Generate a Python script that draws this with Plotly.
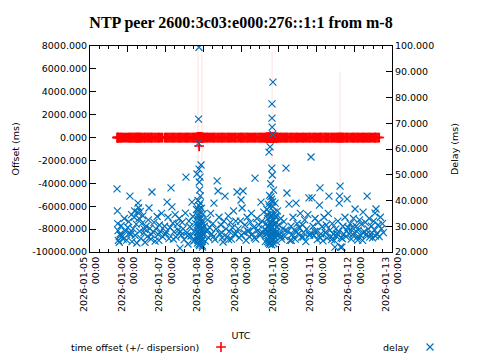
import pandas as pd
import plotly.graph_objects as go

BASE = pd.Timestamp("2026-01-05 00:00")

# sample times, hours after 2026-01-05 00:00 UTC (grouped per stretch)
sample_hours = [
    # Jan 5 (13)
    17.2, 17.4, 17.6, 17.8, 18.0, 18.6, 19.2, 19.8, 20.5, 21.1, 21.8, 22.5, 23.3,
    # Jan 6 (39)
    24.0, 24.6, 25.4, 26.0, 26.4, 26.7, 27.4, 28.1, 28.4, 28.7,
    29.4, 30.1, 30.5, 30.9, 31.2, 31.6, 32.0, 32.3, 32.9, 33.6,
    34.3, 35.0, 35.7, 36.4, 37.1, 37.5, 38.1, 38.7, 39.4, 40.0,
    40.7, 41.4, 42.0, 42.7, 43.4, 44.1, 44.8, 45.5, 46.1,
    # Jan 7 (33)
    47.4, 48.1, 49.0, 49.6, 50.2, 50.9, 51.5, 52.1, 52.7, 53.4,
    54.1, 54.7, 55.4, 56.1, 56.7, 57.2, 57.9, 58.6, 59.2, 59.9,
    60.6, 61.0, 61.6, 62.3, 62.9, 63.5, 64.2, 64.8, 65.4, 66.0,
    66.6, 67.2, 67.7,
    # Jan 7 late spike (34)
    67.8, 68.0, 68.2, 68.4, 68.6, 68.7, 68.9, 69.0, 69.0, 69.1,
    69.2, 69.3, 69.3, 69.4, 69.5, 69.5, 69.6, 69.7, 69.8, 69.9,
    70.0, 70.1, 70.2, 70.3, 70.4, 70.6, 70.7, 70.8, 71.0, 71.2,
    71.4, 71.5, 71.6, 71.9,
    # Jan 8 (33)
    72.1, 72.7, 73.3, 74.0, 74.7, 75.4, 76.1, 76.7, 77.4, 78.1,
    78.8, 79.4, 80.1, 80.8, 81.4, 82.0, 82.6, 83.3, 84.0, 84.6,
    85.2, 85.8, 86.5, 87.2, 87.9, 88.6, 89.3, 89.9, 90.6, 91.3,
    92.0, 92.7, 93.5,
    # Jan 9 (28)
    94.2, 94.9, 95.6, 96.0, 96.7, 97.3, 97.9, 98.5, 99.2, 99.9,
    100.6, 101.3, 102.0, 102.6, 103.3, 104.0, 104.9, 105.4, 106.1, 106.8,
    107.4, 108.1, 108.7, 109.3, 109.9, 110.5, 111.1, 111.5,
    # Jan 9 late spike (46)
    111.9, 112.2, 112.5, 112.8, 113.1, 113.3, 113.5, 113.6, 113.8, 113.9,
    114.1, 114.2, 114.4, 114.5, 114.6, 114.7, 114.9, 115.0, 115.1, 115.3,
    115.4, 115.5, 115.6, 115.7, 115.7, 115.7, 115.8, 115.9, 116.0, 116.1,
    116.2, 116.3, 116.4, 116.5, 116.7, 116.8, 117.0, 117.2, 117.4, 117.7,
    117.9, 118.2, 118.5, 118.8, 119.2, 119.6,
    # Jan 10 (32)
    120.1, 120.6, 121.2, 121.9, 122.5, 123.2, 123.8, 124.6, 125.2, 125.7,
    126.5, 127.1, 127.8, 128.5, 129.1, 129.8, 130.4, 131.0, 131.7, 132.4,
    133.0, 133.7, 134.4, 135.1, 135.8, 136.5, 137.2, 137.8, 138.5, 139.2,
    139.8, 140.5,
    # Jan 11 (40)
    141.2, 141.8, 142.4, 143.1, 143.8, 144.5, 145.2, 145.9, 146.2, 146.8,
    147.5, 148.1, 148.8, 149.5, 150.2, 150.8, 151.5, 151.9, 152.6, 153.3,
    154.0, 154.7, 155.3, 155.7, 156.3, 156.9, 157.6, 158.2, 158.4, 158.7,
    159.0, 159.3, 159.7, 160.2, 160.8, 161.4, 162.1, 162.8, 163.5, 164.0,
    # Jan 12 (35)
    164.7, 165.4, 166.1, 166.8, 167.5, 168.1, 168.5, 169.2, 169.9, 170.6,
    171.3, 172.0, 172.6, 173.3, 173.6, 174.3, 175.0, 175.6, 176.2, 176.8,
    177.5, 178.2, 178.9, 179.6, 180.3, 181.0, 181.2, 181.8, 182.5, 183.2,
    183.9, 184.6, 185.3, 185.9, 186.5,
    # extra samples in the two spikes (16 + 22) and the low band (38)
    68.1, 68.3, 68.5, 68.8, 69.0, 69.1, 69.2, 69.4, 69.5, 69.7,
    69.9, 70.1, 70.3, 70.5, 70.9, 71.3,
    112.3, 112.7, 113.0, 113.4, 113.7, 114.0, 114.3, 114.6, 114.8, 115.0,
    115.2, 115.4, 115.6, 115.9, 116.1, 116.4, 116.6, 116.9, 117.3, 117.6,
    118.0, 118.6,
    19.5, 25.0, 29.8, 34.7, 39.0, 43.8, 48.5, 53.0, 57.5, 62.0,
    65.8, 74.3, 78.5, 83.7, 88.2, 92.4, 96.3, 100.2, 104.5, 108.4,
    121.5, 124.3, 128.0, 131.5, 135.5, 139.5, 142.8, 146.5, 149.8, 153.6,
    157.2, 160.5, 163.2, 167.0, 170.2, 173.8, 177.8, 181.5,
]

delay_ms = [
    # Jan 5 (13)
    44.5, 36.0, 31.0, 28.3, 24.5, 23.8, 27.0, 30.2, 26.0, 25.0, 33.0, 28.0, 24.6,
    # Jan 6 (39)
    29.5, 31.8, 41.7, 27.0, 34.5, 24.0, 29.0, 33.5, 36.0, 26.5,
    30.8, 35.5, 39.0, 37.2, 33.0, 28.0, 35.8, 25.3, 31.0, 34.0,
    27.5, 23.8, 30.0, 26.0, 32.5, 37.1, 29.2, 25.0, 43.3, 27.8,
    31.5, 24.2, 29.0, 33.8, 26.8, 30.5, 28.0, 35.0, 26.0,
    # Jan 7 (33)
    30.0, 27.0, 39.4, 33.5, 25.2, 29.5, 44.9, 37.5, 31.2, 27.8,
    34.5, 25.8, 30.8, 28.5, 33.0, 21.5, 26.5, 31.5, 29.0, 24.8,
    35.1, 49.1, 27.5, 23.1, 32.0, 29.8, 26.2, 39.4, 33.8, 28.0,
    24.5, 31.0, 36.5,
    # Jan 7 late spike (34)
    26.0, 50.3, 30.5, 23.5, 34.0, 40.0, 28.0, 71.6, 62.3, 25.0,
    32.5, 99.5, 52.2, 38.0, 47.2, 27.0, 22.5, 44.1, 30.0, 35.5,
    49.1, 25.8, 41.8, 29.0, 33.0, 53.8, 24.0, 37.0, 27.5, 31.5,
    22.6, 21.9, 28.8, 34.8,
    # Jan 8 (33)
    26.5, 30.0, 24.2, 28.0, 32.5, 25.5, 29.5, 35.0, 27.0, 31.0,
    39.0, 24.8, 29.0, 47.6, 43.7, 33.5, 27.0, 30.5, 25.5, 23.9,
    32.0, 41.7, 29.0, 26.0, 34.0, 28.0, 31.5, 25.0, 29.5, 36.0,
    27.0, 32.0, 43.3,
    # Jan 9 (28)
    29.0, 25.5, 32.0, 40.2, 37.1, 43.7, 27.5, 30.5, 24.5, 33.5,
    28.0, 26.0, 31.5, 35.0, 27.0, 29.5, 48.7, 25.0, 33.0, 28.5,
    30.5, 26.5, 39.4, 32.0, 27.5, 35.5, 29.0, 24.0,
    # Jan 9 late spike (46)
    31.0, 27.0, 36.5, 25.0, 33.0, 29.5, 38.5, 23.5, 58.8, 27.8,
    42.0, 31.5, 25.5, 60.8, 35.0, 23.5, 46.5, 29.0, 33.8, 26.5,
    40.5, 22.8, 52.6, 30.0, 77.5, 72.0, 68.5, 49.9, 27.0, 37.5,
    65.8, 86.0, 32.0, 24.5, 44.0, 28.5, 35.5, 25.8, 31.0, 39.0,
    27.0, 33.5, 24.0, 29.8, 36.0, 26.5,
    # Jan 10 (32)
    30.5, 27.0, 33.0, 25.0, 29.0, 31.8, 26.0, 52.6, 42.9, 28.0,
    38.6, 24.5, 30.0, 26.8, 33.5, 28.5, 25.0, 39.0, 31.0, 27.0,
    29.5, 35.0, 25.8, 30.5, 27.5, 32.5, 24.0, 29.0, 34.5, 41.0,
    27.0, 56.9,
    # Jan 11 (40)
    41.0, 30.0, 26.5, 33.0, 28.0, 24.8, 31.5, 38.2, 44.9, 27.0,
    29.8, 24.3, 33.5, 27.5, 30.5, 25.5, 35.0, 41.7, 28.5, 26.0,
    31.0, 27.0, 24.5, 21.9, 29.0, 26.0, 32.0, 28.0, 39.0, 41.7,
    45.6, 21.9, 25.5, 21.9, 30.0, 27.0, 33.5, 26.0, 40.6, 29.5,
    # Jan 12 (35)
    27.0, 31.0, 25.0, 29.5, 33.0, 27.5, 36.7, 30.0, 25.8, 28.5,
    32.5, 26.5, 30.8, 24.5, 35.5, 28.0, 31.5, 26.8, 41.7, 29.0,
    33.0, 27.0, 30.0, 25.5, 32.0, 28.5, 35.1, 36.7, 27.0, 30.5,
    26.0, 33.5, 29.0, 31.0, 27.5,
    # extra samples (16 + 22 + 38)
    27.5, 33.0, 24.5, 29.5, 36.5, 26.0, 31.0, 23.0, 34.5, 28.5,
    25.5, 39.0, 30.5, 26.5, 32.0, 24.8,
    28.0, 34.5, 24.0, 30.0, 26.5, 37.5, 23.0, 31.5, 28.8, 41.5,
    25.5, 34.0, 29.5, 24.8, 39.5, 27.5, 32.5, 23.2, 30.5, 26.0,
    34.0, 28.0,
    26.5, 27.2, 23.5, 28.8, 26.8, 24.5, 27.8, 25.0, 28.0, 26.3,
    24.2, 28.5, 26.0, 27.5, 24.8, 27.0, 26.5, 28.2, 25.5, 27.2,
    26.0, 28.5, 24.5, 27.8, 25.8, 26.5, 28.0, 25.5, 27.5, 24.8,
    27.0, 25.2, 28.2, 26.8, 24.6, 27.3, 25.8, 26.2,
]

offset_ms = [
    # Jan 5 (13)
    0.5, -0.3, 0.2, 0.8, -0.5, 0.1, 0.4, -0.2, 0.6, -0.4, 0.3, 0.0, -0.1,
    # Jan 6 (39)
    0.2, -0.6, 0.4, 0.1, -0.3, 0.7, -0.2, 0.3, 0.0, -0.5,
    0.6, -0.1, 0.2, -0.4, 0.5, 0.1, -0.3, 0.4, -0.2, 0.3,
    0.0, -0.6, 0.2, 0.5, -0.1, 0.3, -0.4, 0.1, 0.6, -0.2,
    0.4, -0.3, 0.0, 0.2, -0.5, 0.3, 0.1, -0.2, 0.4,
    # Jan 7 (33)
    0.3, -0.2, 0.5, 0.0, -0.4, 0.2, 0.6, -0.1, 0.3, -0.5,
    0.1, 0.4, -0.3, 0.2, 0.0, -0.6, 0.5, -0.2, 0.3, 0.1,
    -0.4, 0.6, 0.0, -0.3, 0.2, 0.4, -0.1, 0.5, -0.5, 0.1,
    0.3, -0.2, 0.0,
    # Jan 7 late spike (34)
    0.4, -0.3, 0.1, 0.6, -0.2, 0.2, 0.0, -0.5, 0.3, 0.5,
    -0.1, 0.2, -0.4, -740.0, 0.1, 0.4, -0.3, 0.6, 0.0, -0.2,
    0.3, 0.5, -0.6, 0.1, 0.2, -0.1, 0.4, -0.3, 0.0, 0.5,
    -0.2, 0.3, 0.1, -0.4,
    # Jan 8 (33)
    0.2, 0.5, -0.3, 0.1, 0.4, -0.2, 0.0, 0.6, -0.5, 0.3,
    0.1, -0.1, 0.4, 0.2, -0.4, 0.5, 0.0, -0.3, 0.3, 0.6,
    -0.2, 0.1, 0.4, -0.5, 0.2, 0.0, 0.3, -0.1, 0.5, -0.4,
    0.1, 0.2, -0.3,
    # Jan 9 (28)
    0.4, -0.2, 0.1, 0.5, -0.3, 0.0, 0.3, 0.6, -0.4, 0.2,
    -0.1, 0.4, 0.1, -0.5, 0.3, 0.0, 0.5, -0.2, 0.2, 0.6,
    -0.3, 0.1, 0.4, -0.1, 0.0, 0.3, -0.4, 0.2,
    # Jan 9 late spike (46)
    0.1, 0.5, -0.2, 0.3, 0.0, -0.4, 0.6, 0.2, -0.1, 0.4,
    -0.3, 0.1, 0.5, -0.5, 0.2, 0.0, 0.3, -0.2, 0.6, 0.1,
    -0.4, 0.4, 0.0, 0.2, -0.1, 0.5, -0.3, 0.3, 0.1, -0.6,
    0.4, 0.0, 0.2, -0.2, 0.5, 0.1, -0.4, 0.3, 0.0, 0.6,
    -0.1, 0.2, 0.4, -0.3, 0.1, 0.5,
    # Jan 10 (32)
    0.3, -0.1, 0.4, 0.0, -0.3, 0.5, 0.2, -0.4, 0.1, 0.6,
    -0.2, 0.3, 0.0, 0.4, -0.5, 0.2, 0.1, -0.1, 0.5, 0.3,
    -0.3, 0.0, 0.4, 0.2, -0.2, 0.6, 0.1, -0.4, 0.3, 0.0,
    0.5, -0.1,
    # Jan 11 (40)
    0.2, 0.4, -0.2, 0.1, 0.5, -0.3, 0.0, 0.3, 0.6, -0.1,
    0.2, -0.4, 0.4, 0.1, -0.2, 0.5, 0.0, 0.3, -0.5, 0.2,
    0.6, -0.1, 0.1, 0.4, -0.3, 0.0, 0.3, 0.5, -0.2, 0.1,
    0.2, -0.4, 0.4, 0.0, 0.3, -0.1, 0.5, 0.2, -0.3, 0.1,
    # Jan 12 (35, last four have no offset)
    0.3, 0.0, -0.2, 0.4, 0.1, 0.5, -0.3, 0.2, 0.0, 0.6,
    -0.1, 0.3, 0.4, -0.4, 0.1, 0.2, -0.2, 0.5, 0.0, 0.3,
    0.1, -0.3, 0.4, 0.2, 0.6, -0.1, 0.0, 0.3, 0.2, -0.2,
    0.1, None, None, None, None,
    # extra samples (16 + 22 + 38)
    0.2, -0.1, 0.4, 0.0, -0.3, 0.5, 0.1, -0.2, 0.3, 0.6,
    -0.4, 0.2, 0.0, 0.4, -0.1, 0.3,
    0.5, -0.2, 0.1, 0.3, -0.4, 0.0, 0.6, 0.2, -0.3, 0.1,
    0.4, -0.1, 0.2, 0.5, -0.5, 0.0, 0.3, -0.2, 0.1, 0.4,
    -0.3, 0.2,
    0.0, 0.3, -0.2, 0.5, 0.1, -0.4, 0.2, 0.6, -0.1, 0.3,
    0.0, -0.3, 0.4, 0.1, -0.2, 0.5, 0.2, -0.5, 0.3, 0.0,
    0.4, -0.1, 0.2, 0.6, -0.3, 0.1, 0.0, 0.3, -0.4, 0.2,
    0.5, -0.2, 0.1, 0.4, 0.0, -0.1, 0.3, 0.2,
]

# samples whose dispersion is large enough to be visible
disp_hours = [68.7, 69.4, 71.2, 115.8, 159.0]
disp_offset_ms = [0.0, -740.0, 0.0, 0.0, 0.0]
disp_ms = [9500.0, 450.0, 9200.0, 7500.0, 5800.0]

x_tick_days = ["2026-01-05", "2026-01-06", "2026-01-07", "2026-01-08", "2026-01-09",
               "2026-01-10", "2026-01-11", "2026-01-12", "2026-01-13"]
x_tick_text = [d + "<br>00:00" for d in x_tick_days]
y_ticks = [-10000, -8000, -6000, -4000, -2000, 0, 2000, 4000, 6000, 8000]
y_tick_text = ["-10000.000", "-8000.000", "-6000.000", "-4000.000", "-2000.000",
               "0.000", "2000.000", "4000.000", "6000.000", "8000.000"]
y2_ticks = [20, 30, 40, 50, 60, 70, 80, 90, 100]
y2_tick_text = ["20.000", "30.000", "40.000", "50.000", "60.000",
                "70.000", "80.000", "90.000", "100.000"]

assert len(sample_hours) == len(delay_ms) == len(offset_ms)

def to_time(h):
    return BASE + pd.Timedelta(hours=h)

times = [to_time(h) for h in sample_hours]
off_t = [t for t, o in zip(times, offset_ms) if o is not None]
off_v = [o for o in offset_ms if o is not None]

RED = "#ff0000"
BLUE = "#0072bd"
FONT = "DejaVu Sans"
FS = 9.5

fig = go.Figure()

big = [i for i, d in enumerate(disp_ms) if d > 1000]
small = [i for i, d in enumerate(disp_ms) if d <= 1000]
fig.add_trace(go.Scatter(
    x=[to_time(disp_hours[i]) for i in big], y=[disp_offset_ms[i] for i in big],
    mode="markers", marker=dict(size=1, color="rgba(255,0,0,0)"),
    error_y=dict(type="data", array=[disp_ms[i] for i in big], visible=True,
                 color="rgba(255,80,80,0.14)", thickness=1.2, width=0),
    showlegend=False, hoverinfo="skip"))
fig.add_trace(go.Scatter(
    x=[to_time(disp_hours[i]) for i in small], y=[disp_offset_ms[i] for i in small],
    mode="markers", marker=dict(size=1, color="rgba(255,0,0,0)"),
    error_y=dict(type="data", array=[disp_ms[i] for i in small], visible=True,
                 color=RED, thickness=1.2, width=0),
    showlegend=False, hoverinfo="skip"))

fig.add_trace(go.Scatter(
    x=off_t, y=off_v, mode="markers", name="",
    marker=dict(symbol="cross-thin", size=7, line=dict(color=RED, width=1.6), color=RED),
    legend="legend", showlegend=True))

fig.add_trace(go.Scatter(
    x=times, y=delay_ms, mode="markers", name="", yaxis="y2",
    marker=dict(symbol="x-thin", size=7, line=dict(color=BLUE, width=1.2), color=BLUE),
    legend="legend2", showlegend=True))

axis_common = dict(showline=True, linecolor="black", linewidth=1, ticks="inside",
                   tickcolor="black", ticklen=6, showgrid=False, zeroline=False,
                   automargin=False,
                   tickfont=dict(family=FONT, size=FS, color="black"))

LEG_Y = (252 - 347) / 206

fig.update_layout(
    width=480, height=360,
    margin=dict(l=90, r=88, t=46, b=108, autoexpand=False),
    paper_bgcolor="white", plot_bgcolor="white",
    title=dict(text="<b>NTP peer 2600:3c03:e000:276::1:1 from m-8</b>",
               x=0.5, xref="paper", xanchor="center",
               y=1 - 22 / 360, yref="container", yanchor="middle",
               font=dict(family="Liberation Serif", size=16, color="black")),
    xaxis=dict(type="date", range=[to_time(0), to_time(192)],
               tickvals=[pd.Timestamp(d) for d in x_tick_days], ticktext=x_tick_text,
               tickangle=-90, mirror="ticks",
               minor=dict(dtick=6 * 3600 * 1000, ticks="inside", ticklen=3, tickcolor="black"),
               title=dict(text="UTC", standoff=21, font=dict(family=FONT, size=FS, color="black")),
               **axis_common),
    yaxis=dict(range=[-10000, 8000], tickvals=y_ticks, ticktext=y_tick_text,
               title=dict(text="Offset (ms)", standoff=10, font=dict(family=FONT, size=FS, color="black")),
               **axis_common),
    yaxis2=dict(range=[20, 100], tickvals=y2_ticks, ticktext=y2_tick_text,
                overlaying="y", side="right",
                title=dict(text="Delay (ms)", standoff=18, font=dict(family=FONT, size=FS, color="black")),
                **axis_common),
    legend=dict(x=(201 - 90) / 302, xanchor="left", y=LEG_Y, yanchor="middle",
                orientation="h", bgcolor="rgba(0,0,0,0)", font=dict(family=FONT, size=FS)),
    legend2=dict(x=(410 - 90) / 302, xanchor="left", y=LEG_Y, yanchor="middle",
                 orientation="h", bgcolor="rgba(0,0,0,0)", font=dict(family=FONT, size=FS)),
    annotations=[
        dict(text="time offset (+/- dispersion)", xref="paper", yref="paper",
             x=(201 - 90) / 302, xanchor="right", y=LEG_Y, yanchor="middle",
             showarrow=False, font=dict(family=FONT, size=FS, color="black")),
        dict(text="delay", xref="paper", yref="paper",
             x=(411 - 90) / 302, xanchor="right", y=LEG_Y, yanchor="middle",
             showarrow=False, font=dict(family=FONT, size=FS, color="black")),
    ],
)

fig.write_html("out.html", config={"displayModeBar": False},
               post_script="document.body.style.margin='0';")
